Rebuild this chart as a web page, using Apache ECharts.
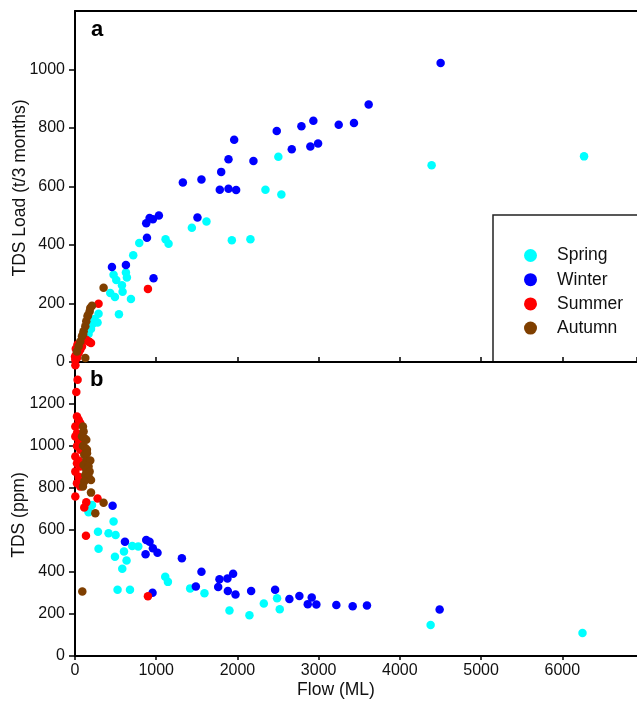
<!DOCTYPE html>
<html>
<head>
<meta charset="utf-8">
<script src="https://cdn.jsdelivr.net/npm/echarts@6/dist/echarts.min.js"></script>
<style>
html,body{margin:0;padding:0;background:#fff;}
#chart{width:637px;height:701px;}
</style>
</head>
<body>
<div id="chart"></div>
<script>
// ---- Data (Flow ML, value) ----
const seasons = ['Spring', 'Winter', 'Summer', 'Autumn'];
const seasonColors = ['#00ffff', '#0000ff', '#ff0000', '#7f3f00'];

const xTicks = [0, 1000, 2000, 3000, 4000, 5000, 6000];
const loadTicks = [0, 200, 400, 600, 800, 1000];
const tdsTicks = [0, 200, 400, 600, 800, 1000, 1200];

// Panel a: TDS load (t/3 months)
const springLoad = [[2504,702],[2345,589],[2541,573],[2160,420],[1931,416],[1619,480],[1439,459],[1115,420],[1152,404],[791,407],[717,365],[475,298],[508,280],[627,306],[639,289],[578,262],[586,240],[434,236],[492,222],[689,215],[541,163],[4391,673],[6268,703],[290,165],[278,135],[241,147],[217,130],[197,113],[167,96],[139,79]];
const winterLoad = [[455,325],[627,332],[967,286],[886,425],[877,474],[918,492],[959,488],[1033,501],[1328,614],[1508,494],[1557,624],[1783,589],[1800,650],[1890,592],[1890,693],[1960,760],[1984,588],[2197,687],[2484,790],[2669,727],[2788,806],[2898,737],[2935,825],[2993,747],[3247,811],[3435,817],[3616,880],[4502,1022]];
const summerLoad = [[898,250],[290,199],[167,70],[197,65],[127,76],[86,53],[65,42],[45,31],[24,14],[4,8],[0,19],[180,68],[139,76],[45,47],[24,31],[10,45],[30,60],[15,25]];
const autumnLoad = [[352,254],[209,192],[188,185],[180,173],[155,156],[139,139],[127,122],[106,105],[86,88],[65,70],[45,53],[24,36],[127,14],[100,95],[160,160]];

// Panel b: TDS (ppm)
const springTds = [[4379,148],[6249,110],[197,715],[167,684],[475,640],[283,592],[413,584],[500,576],[290,511],[492,473],[603,498],[635,455],[705,524],[779,522],[582,415],[524,315],[677,315],[1111,377],[1144,353],[1418,322],[1594,299],[1902,217],[2148,194],[2325,250],[2488,275],[2521,223],[209,719]];
const winterTds = [[463,715],[615,544],[877,552],[918,544],[869,485],[959,513],[1016,492],[955,301],[1316,466],[1488,331],[1557,401],[1763,329],[1779,365],[1882,309],[1877,369],[1947,392],[1976,293],[2169,310],[2464,315],[2640,271],[2763,286],[2866,247],[2915,279],[2972,245],[3218,243],[3419,237],[3595,240],[4490,221]];
const summerTds = [[5,1385],[32,1316],[16,1257],[24,1141],[45,1125],[65,1109],[4,1093],[24,1061],[4,1045],[45,1030],[24,1000],[65,982],[4,950],[45,930],[24,918],[65,902],[4,878],[45,854],[86,838],[24,823],[65,807],[4,759],[139,732],[114,707],[278,750],[135,573],[65,831],[898,285]];
const autumnTds = [[98,1093],[106,1069],[86,1045],[114,1037],[139,1030],[98,1000],[127,990],[147,982],[114,958],[139,934],[188,931],[106,910],[167,902],[139,886],[180,878],[127,862],[167,854],[197,838],[114,831],[98,807],[197,778],[352,730],[250,680],[90,307],[148,966]];

const loadData = [springLoad, winterLoad, summerLoad, autumnLoad];
const tdsData = [springTds, winterTds, summerTds, autumnTds];

// ---- Chart ----
const FONT = 'Liberation Sans, Arial, Helvetica, sans-serif';
const X_MAX = 6920; // visible part of the flow axis (plot is cut at the right edge)
const chart = echarts.init(document.getElementById('chart'), null, {renderer: 'canvas'});
const axisLine = {show: true, lineStyle: {color: '#000', width: 2}};
const tickLabel = {color: '#111', fontSize: 16, fontFamily: FONT};

const series = [];
seasons.forEach((s, i) => {
  series.push({
    name: s, type: 'scatter', xAxisIndex: 0, yAxisIndex: 0, data: loadData[i],
    symbolSize: 8.5, clip: false, itemStyle: {color: seasonColors[i], opacity: 1}
  });
});
seasons.forEach((s, i) => {
  series.push({
    name: s, type: 'scatter', xAxisIndex: 1, yAxisIndex: 1, data: tdsData[i],
    symbolSize: 8.5, clip: false, itemStyle: {color: seasonColors[i], opacity: 1}
  });
});

const option = {
  backgroundColor: '#fff',
  animation: false,
  grid: [
    {left: 75, top: 11, right: 0, height: 351},
    {left: 75, top: 362, right: 0, height: 294}
  ],
  xAxis: [
    {gridIndex: 0, type: 'value', min: 0, max: X_MAX, interval: 1000,
     axisLine: axisLine, axisTick: {show: true, inside: true, length: 5, lineStyle: {color: '#000', width: 1.5}},
     axisLabel: {show: false}, splitLine: {show: false}},
    {gridIndex: 1, type: 'value', min: 0, max: X_MAX, interval: 1000,
     axisLine: axisLine, axisTick: {show: true, inside: false, length: 4, lineStyle: {color: '#000', width: 1.5}},
     axisLabel: Object.assign({margin: 7, showMaxLabel: false,
       formatter: v => xTicks.includes(v) ? String(v) : ''}, tickLabel),
     splitLine: {show: false}},
    {gridIndex: 0, type: 'value', position: 'top', min: 0, max: X_MAX,
     axisLine: axisLine, axisTick: {show: false}, axisLabel: {show: false}, splitLine: {show: false}}
  ],
  yAxis: [
    {gridIndex: 0, type: 'value', min: 0, max: 1200, interval: 200,
     axisLine: axisLine, axisTick: {show: true, inside: false, length: 6, lineStyle: {color: '#000', width: 1.5}},
     axisLabel: Object.assign({margin: 10, showMaxLabel: false,
       formatter: v => loadTicks.includes(v) ? String(v) : ''}, tickLabel),
     splitLine: {show: false}},
    {gridIndex: 1, type: 'value', min: 0, max: 1400, interval: 200,
     axisLine: axisLine, axisTick: {show: true, inside: false, length: 6, lineStyle: {color: '#000', width: 1.5}},
     axisLabel: Object.assign({margin: 10, showMaxLabel: false,
       formatter: v => tdsTicks.includes(v) ? String(v) : ''}, tickLabel),
     splitLine: {show: false}}
  ],
  legend: {
    data: seasons, orient: 'vertical', left: 519, top: 241.5,
    icon: 'circle', itemWidth: 13, itemHeight: 13, itemGap: 6.2,
    selectedMode: false,
    textStyle: {fontSize: 17.5, fontFamily: FONT, color: '#111', padding: [0, 0, 0, 15]}
  },
  graphic: [
    {type: 'rect', z: 0, shape: {x: 493, y: 215, width: 200, height: 147},
     style: {fill: 'none', stroke: '#222', lineWidth: 1.5}},
    {type: 'text', x: 91, y: 41, style: {text: 'a', font: 'bold 22px ' + FONT, fill: '#000', textVerticalAlign: 'bottom'}},
    {type: 'text', x: 90, y: 391, style: {text: 'b', font: 'bold 22px ' + FONT, fill: '#000', textVerticalAlign: 'bottom'}},
    {type: 'text', x: 336, y: 690, style: {text: 'Flow (ML)', font: '17.5px ' + FONT, fill: '#111', textAlign: 'center', textVerticalAlign: 'middle'}},
    {type: 'text', x: 20, y: 188, rotation: Math.PI / 2, style: {text: 'TDS Load (t/3 months)', font: '17.5px ' + FONT, fill: '#111', textAlign: 'center', textVerticalAlign: 'middle'}},
    {type: 'text', x: 19, y: 515, rotation: Math.PI / 2, style: {text: 'TDS (ppm)', font: '17.5px ' + FONT, fill: '#111', textAlign: 'center', textVerticalAlign: 'middle'}}
  ],
  series: series
};
chart.setOption(option);
</script>
</body>
</html>
